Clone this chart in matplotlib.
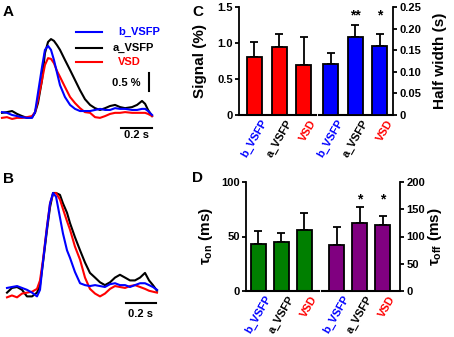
import numpy as np
import matplotlib
matplotlib.use('Agg')
import matplotlib.pyplot as plt
from matplotlib.transforms import ScaledTranslation

plt.rcParams['font.family'] = ['Liberation Sans', 'DejaVu Sans']
plt.rcParams['font.weight'] = 'bold'
plt.rcParams['axes.labelweight'] = 'bold'
plt.rcParams['mathtext.fontset'] = 'custom'
plt.rcParams['mathtext.rm'] = 'Liberation Sans:bold'
plt.rcParams['mathtext.it'] = 'Liberation Sans:bold'
plt.rcParams['mathtext.bf'] = 'Liberation Sans:bold'

# ---- data ----
# A: raw traces (time in s, signal in %)
t_a = [0, .032, .065, .097, .129, .161, .194, .213, .232, .258, .277, .297, .316, .335,
       .355, .374, .406, .439, .471, .503, .535, .568, .600, .632, .665, .697, .729, .761,
       .794, .839, .871, .903, .923, .942, .968]
a_black = [.06, .08, .11, .03, -.03, -.08, -.06, .06, .33, .97, 1.72, 2.03, 2.11, 2.06,
           1.94, 1.81, 1.53, 1.25, .97, .69, .44, .28, .19, .14, .19, .25, .28, .22,
           .19, .22, .28, .39, .31, .14, -.03]
a_blue = [.08, .06, 0, -.03, -.06, -.08, -.08, .08, .61, 1.33, 1.81, 1.92, 1.81, 1.53,
          1.17, .83, .50, .28, .17, .11, .11, .11, .14, .17, .14, .14, .19, .17,
          .17, .14, .14, .17, .17, .11, 0]
a_red = [-.08, -.06, -.11, -.08, -.08, -.06, -.03, .08, .42, .97, 1.39, 1.58, 1.56, 1.44,
         1.22, 1.06, .78, .50, .33, .19, .08, .06, -.06, -.08, -.03, .03, .06, .06,
         .08, .06, .06, .06, .06, .03, -.03]

# B: normalised traces
t_b = [0, .033, .067, .100, .133, .167, .200, .220, .240, .267, .287, .307, .327, .353,
       .373, .400, .420, .453, .487, .520, .553, .587, .620, .653, .687, .720, .753, .787,
       .820, .853, .887, .920, .947, .973, 1.0]
b_black = [-.06, -.01, 0, -.03, -.10, -.10, -.06, .02, .26, .61, .85, 1.0, 1.0, .98,
           .89, .79, .68, .53, .39, .26, .15, .10, .05, .02, .05, .10, .13, .10,
           .07, .07, .10, .15, .07, .02, -.04]
b_red = [-.11, -.09, -.11, -.07, -.06, -.05, -.02, .07, .29, .65, .89, .99, 1.0, .93,
         .83, .70, .61, .43, .29, .10, -.02, -.07, -.10, -.07, -.02, .01, 0, -.01,
         .01, .02, 0, -.02, -.04, -.05, -.06]
b_blue = [-.01, 0, .01, -.01, -.03, -.06, -.10, -.03, .27, .64, .89, 1.0, .96, .74,
          .57, .39, .31, .16, .04, .02, .01, .02, .01, 0, .03, .04, .02, .02,
          0, .02, .04, .04, .02, 0, -.03]

groups = ['b_VSFP', 'a_VSFP', 'VSD']
group_colors = ['#0000ff', 'black', '#ff0000']

# C
signal_mean = [0.80, 0.95, 0.70]
signal_sem = [0.21, 0.18, 0.39]
halfw_mean = [0.117, 0.180, 0.159]
halfw_sem = [0.026, 0.029, 0.029]
halfw_stars = ['', '**', '*']

# D
tau_on_mean = [43.4, 44.6, 56.3]
tau_on_sem = [11.3, 8.9, 15.3]
tau_off_mean = [85, 125, 122]
tau_off_sem = [32, 30, 16]
tau_off_stars = ['', '*', '*']

W, H = 454, 337
fig = plt.figure(figsize=(W / 100, H / 100), dpi=100)


def box(x0, y0, x1, y1):
    # pixel box (top-left origin) -> figure fraction
    return [x0 / W, 1 - y1 / H, (x1 - x0) / W, (y1 - y0) / H]


def trace_panel(rect, t, traces, xlim, ylim):
    ax = fig.add_axes(rect)
    for y, c in traces:
        ax.plot(t, y, color=c, lw=1.5, solid_joinstyle='round')
    ax.set_xlim(*xlim)
    ax.set_ylim(*ylim)
    ax.axis('off')
    return ax


ax_a = trace_panel(box(0, 20, 160, 140), t_a,
                   [(a_black, 'black'), (a_red, '#ff0000'), (a_blue, '#0000ff')],
                   (-0.0129, 1.019), (-0.695, 2.64))
ax_a.plot([0.768, 0.968], [-0.36, -0.36], color='k', lw=1.5)
ax_a.text(0.868, -0.56, '0.2 s', ha='center', va='center', fontsize=8)
ax_a.plot([0.948, 0.948], [0.67, 1.17], color='k', lw=1.5)
ax_a.text(0.80, 0.89, '0.5 %', ha='center', va='center', fontsize=8)
# legend
for i, (lab, c) in enumerate(zip(groups, group_colors)):
    yy = [2.31, 1.86, 1.47][i]
    ax_a.plot([0.477, 0.645], [yy, yy], color=c, lw=1.5)
    ax_a.text([0.748, 0.716, 0.748][i], yy, lab, color=c, ha='left', va='center',
              fontsize=8)

ax_b = trace_panel(box(0, 180, 160, 320), t_b,
                   [(b_black, 'black'), (b_red, '#ff0000'), (b_blue, '#0000ff')],
                   (-0.0467, 1.02), (-0.351, 1.138))
ax_b.plot([0.793, 0.993], [-0.17, -0.17], color='k', lw=1.5)
ax_b.text(0.893, -0.285, '0.2 s', ha='center', va='center', fontsize=8)


def bar_panel(rect, pos, xlim, width, left, right, col_l, col_r, lims, ticks,
              ylabels, label_x, stars, star_y):
    ax = fig.add_axes(rect)
    ax2 = ax.twinx()
    for a, (m, s), col, p in [(ax, left, col_l, pos[:3]), (ax2, right, col_r, pos[3:])]:
        a.errorbar(p, m, yerr=[np.zeros(len(m)), s], fmt='none', ecolor='k',
                   elinewidth=1.3, capsize=3, capthick=1.3, zorder=1)
        a.bar(p, m, width=width, color=col, edgecolor='k', linewidth=1.3, zorder=2)
    for a, lim, tk in [(ax, lims[0], ticks[0]), (ax2, lims[1], ticks[1])]:
        a.set_ylim(*lim)
        a.set_yticks([float(v) for v in tk], tk, fontweight='bold')
        a.tick_params(axis='y', direction='out', length=3, width=1.3, labelsize=8, pad=1.5)
        for sp in ['top', 'bottom']:
            a.spines[sp].set_visible(False)
        for sp in ['left', 'right']:
            a.spines[sp].set_linewidth(1.3)
    ax.spines['right'].set_visible(False)
    ax2.spines['left'].set_visible(False)
    ax.set_xlim(*xlim)
    ax.set_xticks(pos, groups * 2)
    ax.tick_params(axis='x', length=0, pad=2)
    shift = ScaledTranslation(6 / 100, 0, fig.dpi_scale_trans)
    for lbl, c in zip(ax.get_xticklabels(), group_colors * 2):
        lbl.set_color(c)
        lbl.set_rotation(60)
        lbl.set_ha('right')
        lbl.set_va('top')
        lbl.set_rotation_mode('anchor')
        lbl.set_fontsize(8)
        lbl.set_fontweight('bold')
        lbl.set_transform(lbl.get_transform() + shift)
    gap = (pos[2] + pos[3]) / 2
    ax.plot([xlim[0], gap - 0.06], [0, 0], color='k', lw=1.5, clip_on=False, zorder=3)
    ax.plot([gap + 0.06, xlim[1]], [0, 0], color='k', lw=1.5, clip_on=False, zorder=3)
    ax.set_ylabel(ylabels[0], fontsize=11, fontweight='bold')
    ax2.set_ylabel(ylabels[1], fontsize=11, fontweight='bold')
    ax.yaxis.set_label_coords(label_x[0], 0.5)
    ax2.yaxis.set_label_coords(label_x[1], 0.5)
    for p, s in zip(pos[3:], stars):
        if s:
            ax2.text(p, star_y, s, ha='center', va='baseline', fontsize=10)
    return ax, ax2


pos_c = [0, 1, 2, 3.1, 4.1, 5.1]
bar_panel(box(239, 7, 393, 115), pos_c, (-0.63, 5.63), 0.61,
          (signal_mean, signal_sem), (halfw_mean, halfw_sem), '#ff0000', '#0000ff',
          [(0, 1.5), (0, 0.25)],
          [['0', '0.5', '1.0', '1.5'], ['0', '0.05', '0.10', '0.15', '0.20', '0.25']],
          ['Signal (%)', 'Half width (s)'], (-0.21, 1.26), halfw_stars, 0.222)

pos_d = [0, 1, 2, 3.4, 4.4, 5.4]
bar_panel(box(246, 182, 400, 291), pos_d, (-0.535, 6.16), 0.64,
          (tau_on_mean, tau_on_sem), (tau_off_mean, tau_off_sem), '#007f00', '#800080',
          [(0, 100), (0, 200)],
          [['0', '50', '100'], ['0', '50', '100', '150', '200']],
          [r'$\tau_{\rm on}$ (ms)', r'$\tau_{\rm off}$ (ms)'], (-0.2, 1.17),
          tau_off_stars, 160)

for lab, x, y in [('A', 3, 5), ('B', 3, 172), ('C', 192, 5), ('D', 192, 171)]:
    fig.text(x / W, 1 - y / H, lab, ha='left', va='top', fontsize=11, fontweight='bold')

fig.savefig('out.png', dpi=100)
